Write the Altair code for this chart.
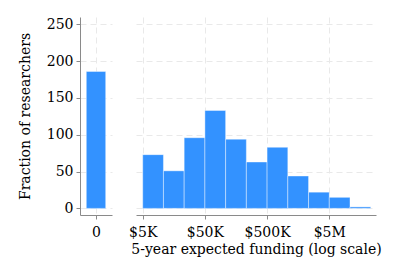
import altair as alt
import pandas as pd

# Left panel: researchers with zero expected funding
zero_label = [0]
zero_count = [186]

# Right panel: log-spaced histogram (bin edges in dollars)
bin_lo = [5000, 10772, 23208, 50000, 107722, 232079, 500000, 1077217, 2320794, 5000000, 10772173]
bin_hi = [10772, 23208, 50000, 107722, 232079, 500000, 1077217, 2320794, 5000000, 10772173, 23207944]
counts = [73, 51, 96, 133, 94, 63, 83, 44, 22, 15, 2]

x_ticks = [5000, 50000, 500000, 5000000]
y_ticks = [0, 50, 100, 150, 200, 250]

BLUE = "#3392ff"
FONT = "DejaVu Serif"

df0 = pd.DataFrame({"x": zero_label, "count": zero_count})
df1 = pd.DataFrame({"lo": bin_lo, "hi": bin_hi, "count": counts})

yscale = alt.Scale(domain=[-9, 260], nice=False, zero=False)

left = alt.Chart(df0).mark_bar(size=19.4, color=BLUE, stroke="white",
                               strokeWidth=0.8, strokeOpacity=0.5).encode(
    x=alt.X("x:Q", scale=alt.Scale(domain=[-1, 1], nice=False, zero=False),
            axis=alt.Axis(values=[0], title=None, format="d")),
    y=alt.Y("count:Q", scale=yscale,
            axis=alt.Axis(values=y_ticks, title="Fraction of researchers",
                          titlePadding=14, labelPadding=3)),
    y2=alt.datum(0),
).properties(width=32, height=198)

right = alt.Chart(df1).mark_bar(color=BLUE, stroke="white",
                                strokeWidth=0.8, strokeOpacity=0.5).encode(
    x=alt.X("lo:Q", scale=alt.Scale(type="log", domain=[3900, 28200000], nice=False),
            axis=alt.Axis(values=x_ticks, title="5-year expected funding (log scale)",
                          labelExpr="datum.value >= 1000000 ? '$' + format(datum.value/1000000, 'd') + 'M' : '$' + format(datum.value/1000, 'd') + 'K'",
                          titlePadding=3)),
    x2="hi:Q",
    y=alt.Y("count:Q", scale=yscale,
            axis=alt.Axis(values=y_ticks, title=None, labels=False, ticks=False,
                          domain=False)),
    y2=alt.datum(0),
).properties(width=240, height=198)

chart = alt.hconcat(left, right, spacing=16).properties(
    padding={"left": 10, "top": 9, "right": 0, "bottom": 5}
).configure(font=FONT).configure_axis(
    labelFont=FONT, titleFont=FONT, labelFontSize=14, titleFontSize=14,
    labelColor="black", titleColor="black", titleFontWeight="normal",
    gridColor="#e9e9e9", gridDash=[6, 4], gridWidth=1,
    domainColor="#8a8a8a", tickColor="#8a8a8a", tickSize=4,
).configure_axisX(labelPadding=6).configure_view(stroke=None)

chart.save("out.html", embed_options={"renderer": "svg", "actions": False})
